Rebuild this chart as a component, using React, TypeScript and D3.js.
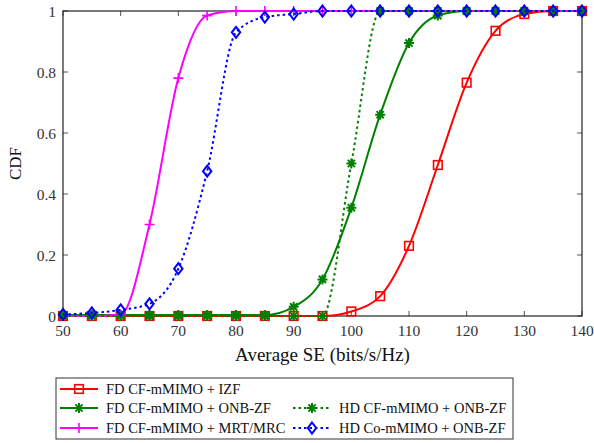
import React from "react";
import * as d3 from "d3";

const xValues = [50, 55, 60, 65, 70, 75, 80, 85, 90, 95, 100, 105, 110, 115, 120, 125, 130, 135, 140];
const fdIzf = [0, 0, 0, 0, 0, 0, 0, 0, 0, 0, 0.015, 0.065, 0.23, 0.495, 0.765, 0.935, 0.99, 1, 1];
const fdOnb = [0.003, 0.003, 0.003, 0.003, 0.003, 0.003, 0.003, 0.003, 0.03, 0.12, 0.355, 0.66, 0.895, 0.985, 1, 1, 1, 1, 1];
const fdMrt = [0, 0, 0.005, 0.3, 0.78, 0.985, 1, 1, 1, 1, 1, 1, 1, 1, 1, 1, 1, 1, 1];
const hdCfOnb = [0, 0, 0, 0, 0, 0, 0, 0, 0, 0, 0.5, 1, 1, 1, 1, 1, 1, 1, 1];
const hdCoOnb = [0.005, 0.01, 0.02, 0.04, 0.155, 0.475, 0.93, 0.98, 0.99, 1, 1, 1, 1, 1, 1, 1, 1, 1, 1];

const xTicks = [50, 60, 70, 80, 90, 100, 110, 120, 130, 140];
const yTicks = [0, 0.2, 0.4, 0.6, 0.8, 1];
const yTickLabels = ["0", "0.2", "0.4", "0.6", "0.8", "1"];

type Series = { name: string; values: number[]; color: string; dashed: boolean; marker: string; col: number; row: number };
const series: Series[] = [
  { name: "FD CF-mMIMO + IZF", values: fdIzf, color: "#ff0000", dashed: false, marker: "square", col: 0, row: 0 },
  { name: "FD CF-mMIMO + ONB-ZF", values: fdOnb, color: "#008000", dashed: false, marker: "star", col: 0, row: 1 },
  { name: "FD CF-mMIMO + MRT/MRC", values: fdMrt, color: "#ff00ff", dashed: false, marker: "plus", col: 0, row: 2 },
  { name: "HD CF-mMIMO + ONB-ZF", values: hdCfOnb, color: "#008000", dashed: true, marker: "star", col: 1, row: 1 },
  { name: "HD Co-mMIMO + ONB-ZF", values: hdCoOnb, color: "#0000ff", dashed: true, marker: "diamond", col: 1, row: 2 },
];

const CSS = `svg text { font-family: "Liberation Serif", "Times New Roman", "DejaVu Serif", serif; }`;

function Marker({ type, x, y, color }: { type: string; x: number; y: number; color: string }) {
  const sw = 1.6;
  if (type === "square") {
    return <rect x={x - 4.3} y={y - 4.3} width={8.6} height={8.6} fill="none" stroke={color} strokeWidth={sw} />;
  }
  if (type === "diamond") {
    const w = 4.2, h = 5.5;
    return <path d={`M${x},${y - h}L${x + w},${y}L${x},${y + h}L${x - w},${y}Z`} fill="none" stroke={color} strokeWidth={sw + 0.4} />;
  }
  if (type === "plus") {
    const r = 5;
    return <path d={`M${x - r},${y}H${x + r}M${x},${y - r}V${y + r}`} stroke={color} strokeWidth={sw} />;
  }
  const r = 5;
  const d = r * 0.72;
  return (
    <path
      d={`M${x - r},${y}H${x + r}M${x},${y - r}V${y + r}M${x - d},${y - d}L${x + d},${y + d}M${x - d},${y + d}L${x + d},${y - d}`}
      stroke={color}
      strokeWidth={sw + 0.4}
    />
  );
}

export default function App() {
  const width = 594, height = 443;
  const left = 63, right = 582, top = 11, bottom = 316;
  const x = d3.scaleLinear().domain([50, 140]).range([left, right]);
  const y = d3.scaleLinear().domain([0, 1]).range([bottom, top]);
  const line = d3
    .line<number>()
    .x((_, i) => x(xValues[i]))
    .y((v) => y(v))
    .curve(d3.curveMonotoneX);

  const legX = [60, 293];
  const legY = [389, 408, 428];

  return (
    <svg width={width} height={height} style={{ position: "absolute", left: 0, top: 0, background: "#fff" }}>
      <style>{CSS}</style>
      <rect x={0} y={0} width={width} height={height} fill="#fff" />
      {xTicks.map((t) => (
        <g key={"xt" + t}>
          <line x1={x(t)} x2={x(t)} y1={bottom} y2={bottom - 5} stroke="#555" strokeWidth={1} />
          <line x1={x(t)} x2={x(t)} y1={top} y2={top + 5} stroke="#555" strokeWidth={1} />
          <text x={x(t)} y={bottom + 20} textAnchor="middle" fontSize={15.5} fill="#333">
            {t}
          </text>
        </g>
      ))}
      {yTicks.map((t, i) => (
        <g key={"yt" + t}>
          <line x1={left} x2={left + 5} y1={y(t)} y2={y(t)} stroke="#555" strokeWidth={1} />
          <line x1={right} x2={right - 5} y1={y(t)} y2={y(t)} stroke="#555" strokeWidth={1} />
          <text x={left - 7} y={y(t) + 5.5} textAnchor="end" fontSize={15.5} fill="#333">
            {yTickLabels[i]}
          </text>
        </g>
      ))}
      <rect x={left} y={top} width={right - left} height={bottom - top} fill="none" stroke="#222" strokeWidth={1.2} />
      {series.map((s) => (
        <g key={s.name}>
          <path
            d={line(s.values) || ""}
            fill="none"
            stroke={s.color}
            strokeWidth={2}
            strokeDasharray={s.dashed ? "2.5,3" : undefined}
          />
          {s.values.map((v, i) => (
            <Marker key={i} type={s.marker} x={x(xValues[i])} y={y(v)} color={s.color} />
          ))}
        </g>
      ))}
      <text x={(left + right) / 2} y={361} textAnchor="middle" fontSize={19} fill="#111">
        Average SE (bits/s/Hz)
      </text>
      <text transform={`translate(${21},${(top + bottom) / 2}) rotate(-90)`} textAnchor="middle" fontSize={17} fill="#111">
        CDF
      </text>
      <rect x={56} y={378} width={457} height={61} fill="#fff" stroke="#333" strokeWidth={1} />
      {series.map((s) => {
        const lx = legX[s.col];
        const ly = legY[s.row];
        return (
          <g key={"leg" + s.name}>
            <line
              x1={lx}
              x2={lx + 38}
              y1={ly}
              y2={ly}
              stroke={s.color}
              strokeWidth={2}
              strokeDasharray={s.dashed ? "2.5,3" : undefined}
            />
            <Marker type={s.marker} x={lx + 19} y={ly} color={s.color} />
            <text x={lx + 46} y={ly + 5} fontSize={14.5} fill="#111">
              {s.name}
            </text>
          </g>
        );
      })}
    </svg>
  );
}
